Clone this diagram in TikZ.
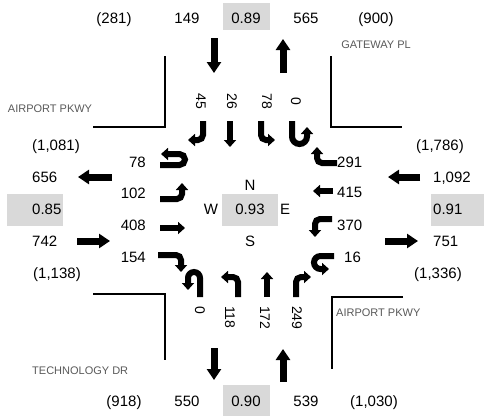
\documentclass[tikz,border=0pt]{standalone}
\usepackage{fontspec}
\setmainfont{Liberation Sans}
\usetikzlibrary{arrows.meta}
\definecolor{phfgray}{RGB}{217,217,217}
\definecolor{streetgray}{RGB}{89,89,89}

\begin{document}
\begin{tikzpicture}[x=1pt,y=-1pt]
\tikzset{vol/.style={font=\fontsize{15}{18}\selectfont,inner sep=0pt,text height=10.7pt,text depth=0pt},
lanevol/.style={vol,font=\fontsize{14}{16}\selectfont,rotate=-90,text height=10pt},
street/.style={font=\fontsize{11}{13}\selectfont,text=streetgray,inner sep=0pt,text height=8pt,text depth=0pt},
curb/.style={line width=1.5pt},
approach/.style={line width=7pt,-{Triangle[length=11pt,width=14pt]}},
mvt/.style={line width=6pt,rounded corners=5pt,-{Triangle[length=7pt,width=12pt]}}}
\useasboundingbox (0,0) rectangle (484,416);
% peak hour factor boxes
\fill[phfgray] (223,3) rectangle (270,30);
\fill[phfgray] (223,385) rectangle (270,416);
\fill[phfgray] (7,194) rectangle (63,226);
\fill[phfgray] (431,194) rectangle (484,226);
\fill[phfgray] (222,194) rectangle (278,226);
% leg totals
\foreach \x/\v [count=\i] in {114/(281),187/149,246/0.89,306/565,376/(900)}
  \node[vol] (north\i) at (\x,18) {\v};
\foreach \x/\v [count=\i] in {124/(918),187/550,246/0.90,306/539,374/{(1,030)}}
  \node[vol] (south\i) at (\x,401) {\v};
\node[vol] (west1) at (56,145) {(1,081)};
\node[vol,anchor=west] (west2) at (32,177) {656};
\node[vol,anchor=west] (west3) at (32,209) {0.85};
\node[vol,anchor=west] (west4) at (32,241) {742};
\node[vol] (west5) at (57,273) {(1,138)};
\node[vol] (east1) at (440,145) {(1,786)};
\node[vol,anchor=west] (east2) at (433,177) {1,092};
\node[vol,anchor=west] (east3) at (433,209) {0.91};
\node[vol,anchor=west] (east4) at (433,241) {751};
\node[vol] (east5) at (438,273) {(1,336)};
% turning movement volumes
\foreach \y/\v [count=\i] in {162/78,193/102,225/408,257/154}
  \node[vol,anchor=east] (eb\i) at (146,\y) {\v};
\foreach \x/\y/\v [count=\i] in {337/162/291,337/192/415,337/225/370,344/257/16}
  \node[vol,anchor=west] (wb\i) at (\x,\y) {\v};
\foreach \x/\v [count=\i] in {201/45,232/26,267/78,296/0}
  \node[lanevol] (sb\i) at (\x,101) {\v};
\foreach \x/\v [count=\i] in {200/0,230/118,265/172,297/249}
  \node[lanevol,anchor=west] (nb\i) at (\x,306) {\v};
% intersection
\node[vol] (cN) at (250,185) {N};
\node[vol] (cW) at (211,209) {W};
\node[vol] (cPhf) at (250,209) {0.93};
\node[vol] (cE) at (285,209) {E};
\node[vol] (cS) at (250,241) {S};
% street names
\node[street] (stNW) at (50,108) {AIRPORT PKWY};
\node[street] (stNE) at (376,44) {GATEWAY PL};
\node[street,anchor=west] (stSE) at (336,312) {AIRPORT PKWY};
\node[street,anchor=west] (stSW) at (32,370) {TECHNOLOGY DR};
% curbs
\draw[curb] (165,56) -- (165,127) -- (93,127);
\draw[curb] (331,56) -- (331,127) -- (402,127);
\draw[curb] (93,294) -- (165,294) -- (165,360);
\draw[curb] (403,297) -- (332,297) -- (332,369);
% approach and departure arrows
\draw[approach] (214,38) -- (214,73);
\draw[approach] (283,73) -- (283,39);
\draw[approach] (214,348) -- (214,380);
\draw[approach] (283,382) -- (283,349);
\draw[approach] (112,177) -- (78,177);
\draw[approach] (77,241) -- (110,241);
\draw[approach] (420,177) -- (388,177);
\draw[approach] (385,241) -- (418,241);
% southbound movements
\draw[mvt] (203,121) -- (203,140) -- (188,140);
\draw[mvt] (230,121) -- (230,147);
\draw[mvt] (261,121) -- (261,140) -- (275,140);
\draw[mvt,rounded corners=7.5pt] (292,121) -- (292,144) -- (307,144) -- (307,127);
% westbound movements
\draw[mvt] (337,163) -- (317,163) -- (317,147);
\draw[mvt] (333,191) -- (313,191);
\draw[mvt] (332,219) -- (315,219) -- (315,237);
\draw[mvt,rounded corners=6.5pt] (334,256) -- (314,256) -- (314,269) -- (329,269);
% eastbound movements
\draw[mvt,rounded corners=5.5pt] (160,165) -- (185,165) -- (185,154) -- (161,154);
\draw[mvt] (160,199) -- (182,199) -- (182,183);
\draw[mvt] (160,228) -- (185,228);
\draw[mvt] (158,255) -- (181,255) -- (181,272);
% northbound movements
\draw[mvt,rounded corners=6pt] (200,297) -- (200,272) -- (188,272) -- (188,290);
\draw[mvt] (238,297) -- (238,277) -- (221,277);
\draw[mvt] (267,297) -- (267,272);
\draw[mvt] (296,297) -- (296,277) -- (311,277);
\end{tikzpicture}
\end{document}
